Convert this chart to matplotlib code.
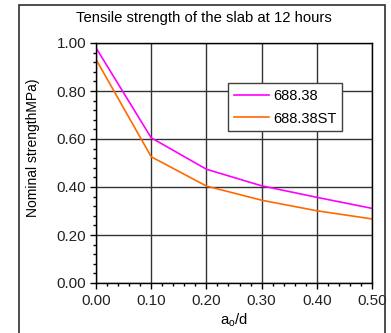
import matplotlib.pyplot as plt
from matplotlib.patches import Rectangle
from matplotlib.ticker import MultipleLocator

plt.rcParams['font.family'] = ['Liberation Sans', 'DejaVu Sans']
plt.rcParams['font.size'] = 10.7

# data
ratio = [0.0, 0.1, 0.2, 0.3, 0.4, 0.5]
s_68838 = [0.98, 0.605, 0.474, 0.405, 0.357, 0.311]
s_68838st = [0.932, 0.526, 0.404, 0.345, 0.301, 0.267]
labels = ['688.38', '688.38ST']
colors = ['#ff00ff', '#ff6a00']

W, H = 391, 333
fig = plt.figure(figsize=(W / 100, H / 100), dpi=100)
fig.patch.set_facecolor('white')

# outer frame (runs off the bottom edge)
fig.patches.append(Rectangle((19 / W, -0.1), 366 / W, 1.1 - 5 / H,
                             transform=fig.transFigure, fill=False,
                             edgecolor='#303030', linewidth=1.2))

ax = fig.add_axes([96 / W, 1 - 283 / H, 276 / W, 240 / H])
ax.plot(ratio, s_68838, color=colors[0], lw=1.2, label=labels[0])
ax.plot(ratio, s_68838st, color=colors[1], lw=1.2, label=labels[1])

ax.set_xlim(0, 0.5)
ax.set_ylim(0, 1.0)
ax.xaxis.set_major_locator(MultipleLocator(0.1))
ax.xaxis.set_minor_locator(MultipleLocator(0.02))
ax.yaxis.set_major_locator(MultipleLocator(0.2))
ax.yaxis.set_minor_locator(MultipleLocator(0.04))
ax.xaxis.set_major_formatter(lambda v, p: f'{v:.2f}')
ax.yaxis.set_major_formatter(lambda v, p: f'{v:.2f}')
ax.tick_params(which='major', direction='out', length=4, width=1, colors='black',
               labelsize=11, labelcolor='#222222')
ax.tick_params(which='minor', direction='out', length=2.5, width=1, colors='black')
ax.tick_params(axis='x', pad=4)
ax.tick_params(axis='y', pad=3)
ax.grid(True, which='major', color='#333333', lw=1)
for sp in ax.spines.values():
    sp.set_color('black')
    sp.set_linewidth(1)

fig.text(204 / W, 1 - 18 / H, 'Tensile strength of the slab at 12 hours',
         ha='center', va='center', fontsize=10.7)
fig.text(33 / W, 1 - 148 / H, 'Nominal strengthMPa)', rotation=90,
         ha='center', va='center', fontsize=10)
fig.text(234 / W, 1 - 320 / H, r'a$_\mathregular{o}$/d', ha='center', va='center', fontsize=10.7)

leg = ax.legend(loc='upper left', bbox_to_anchor=(228 / W, 1 - 83 / H),
                bbox_transform=fig.transFigure, borderaxespad=0,
                fancybox=False, framealpha=1, edgecolor='#404040',
                handlelength=2.4, handletextpad=0.27, labelspacing=0.6,
                borderpad=0.4, fontsize=10.5)
leg.get_frame().set_linewidth(1)

fig.savefig('out.png', dpi=100)
